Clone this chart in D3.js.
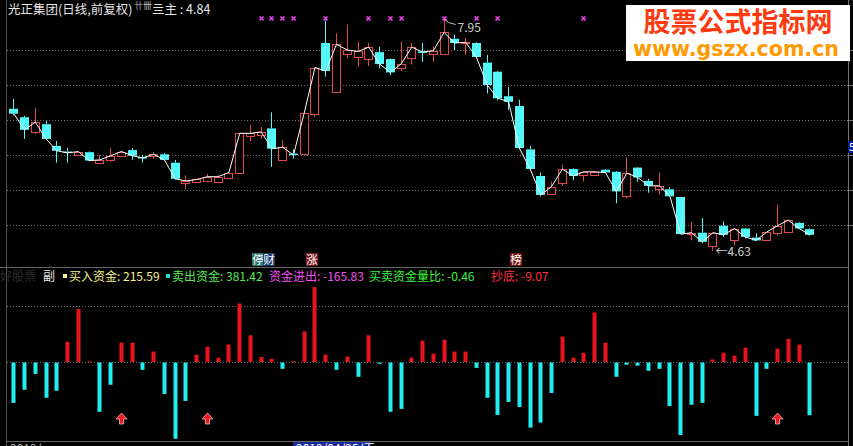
<!DOCTYPE html>
<html><head><meta charset="utf-8">
<script src="https://cdn.jsdelivr.net/npm/d3@7/dist/d3.min.js"></script>
<style>html,body{margin:0;padding:0;background:#000;overflow:hidden}</style>
</head><body>
<svg id="c" width="853" height="446"></svg>
<script>
// ---- data ----
const opens  = [6.66,6.54,6.32,6.44,6.13,6.05,6.01,6.04,5.89,5.93,5.99,6.07,5.97,5.98,6.01,5.89,5.60,5.61,5.64,5.62,5.68,5.74,6.26,6.29,6.38,5.92,6.02,6.02,6.60,7.60,6.90,7.44,7.40,7.37,7.47,7.37,7.24,7.38,7.48,7.44,7.44,7.66,7.59,7.60,7.32,7.19,6.84,6.70,6.08,5.70,5.45,5.60,5.80,5.71,5.72,5.79,5.76,5.41,5.82,5.63,5.52,5.51,5.40,4.87,4.89,4.70,4.99,4.80,4.95,4.82,4.79,4.89,4.90,5.03,4.94];
const highs  = [6.80,6.56,6.67,6.49,6.20,6.10,6.05,6.05,6.00,6.10,6.06,6.10,6.00,6.04,6.03,5.93,5.71,5.66,5.73,5.71,5.76,6.31,6.43,6.40,6.61,6.21,6.08,6.60,7.25,7.92,7.74,7.86,7.62,7.60,7.55,7.38,7.62,7.60,7.60,7.55,7.95,7.72,7.67,7.61,7.43,7.20,6.97,6.79,6.13,5.75,5.62,5.86,5.81,5.77,5.77,5.80,5.77,5.97,5.83,5.66,5.75,5.54,5.40,5.05,5.10,4.89,5.05,4.95,4.96,4.88,4.90,5.29,5.07,5.04,4.95];
const lows   = [6.57,6.23,6.30,6.22,5.89,5.89,6.00,5.91,5.88,5.90,5.98,5.93,5.89,5.95,5.92,5.65,5.51,5.60,5.63,5.61,5.67,5.74,6.20,6.23,5.83,5.92,5.95,6.00,6.54,7.12,6.90,7.38,7.26,7.27,7.24,7.14,7.20,7.29,7.33,7.33,7.44,7.50,7.43,7.40,6.88,6.78,6.64,6.08,5.79,5.41,5.44,5.56,5.64,5.62,5.70,5.74,5.31,5.38,5.62,5.46,5.43,5.40,4.87,4.78,4.74,4.63,4.83,4.71,4.81,4.77,4.78,4.85,4.89,4.95,4.85];
const closes = [6.59,6.36,6.47,6.23,6.06,6.03,6.05,5.92,5.93,5.99,6.05,5.99,5.96,6.01,5.93,5.66,5.63,5.65,5.69,5.69,5.75,6.31,6.31,6.33,6.09,6.11,6.00,6.60,7.25,7.20,7.58,7.50,7.48,7.54,7.30,7.18,7.30,7.54,7.47,7.49,7.75,7.60,7.61,7.40,7.00,6.81,6.76,6.10,5.80,5.43,5.55,5.80,5.70,5.76,5.76,5.75,5.48,5.74,5.68,5.56,5.56,5.41,4.87,4.89,4.76,4.89,4.86,4.95,4.83,4.78,4.90,4.99,5.07,4.95,4.86];
const flows  = [-127,-86,-36,-111,-89,64,167,2,-155,-70,61,61,-23,33,-99,-240,-121,23,48,14,55,184,84,16,10,-20,3,96,236,23,-23,17,-45,84,-4,-155,-146,14,67,26,70,33,33,-17,-111,-165,-124,-140,-205,-189,-96,80,14,29,156,61,-45,-7,-10,-26,-20,-137,-228,-133,-127,8,29,20,45,-168,-20,42,73,55,-165.83];
const markerIdx = [23,24,25,26,29,33,35,36,40,43,45,53];
const arrowIdx  = [10,18,71];
const priceGrid = [7.5,7.0,6.5,6.0,5.5,5.0];
const flowGrid  = [176,0];
const legendItems = [
  {t:"买入资金: 215.59", c:"#f4f08a", x:69, sq:"#f4f08a"},
  {t:"卖出资金: 381.42", c:"#5ce65c", x:172, sq:"#20e0d0"},
  {t:"资金进出: -165.83", c:"#f050f0", x:269},
  {t:"买卖资金量比: -0.46", c:"#40f040", x:369},
  {t:"抄底: -9.07", c:"#ff3040", x:491}
];
const events = [{t:"停",i:22,bg:"#2f7a72"},{t:"财",i:23,bg:"#1c3d6a"},{t:"涨",i:27,bg:"#7a1818"},{t:"榜",i:46,bg:"#7a1818"}];

// ---- drawing ----
const svg = d3.select("#c");
const FONT = "'Noto Sans CJK SC','Noto Sans',sans-serif";
svg.append("rect").attr("width",853).attr("height",446).attr("fill","#000");

const n = closes.length;
const x = d3.scaleLinear().domain([0, n-1]).range([13.3, 809.3]);
const y = d3.scaleLinear().domain([5, 7.5]).range([225, 50]);
const yf = d3.scaleLinear().domain([-165.83, 0]).range([414.7, 362]);

// frames
svg.append("line").attr("x1",6.5).attr("x2",6.5).attr("y1",0).attr("y2",446).attr("stroke","#555");
svg.append("line").attr("x1",848.5).attr("x2",848.5).attr("y1",0).attr("y2",446).attr("stroke","#777");
svg.append("line").attr("x1",0).attr("x2",849).attr("y1",267.5).attr("y2",267.5).attr("stroke","#666");
svg.append("line").attr("x1",6).attr("x2",849).attr("y1",441.5).attr("y2",441.5).attr("stroke","#666");

// price grid
svg.selectAll(".pg").data(priceGrid).join("line")
  .attr("x1",7).attr("x2",848)
  .attr("y1",d=>Math.round(y(d))+0.5).attr("y2",d=>Math.round(y(d))+0.5)
  .attr("stroke","#6a6a6a").attr("stroke-dasharray","1,2");
// flow grid
svg.selectAll(".fg").data(flowGrid).join("line")
  .attr("x1",7).attr("x2",848)
  .attr("y1",d=>Math.round(yf(d))+0.5).attr("y2",d=>Math.round(yf(d))+0.5)
  .attr("stroke","#6a6a6a").attr("stroke-dasharray","1,2");

// right axis ticks
svg.selectAll(".rt").data(priceGrid).join("line")
  .attr("x1",848).attr("x2",853)
  .attr("y1",d=>Math.round(y(d))+0.5).attr("y2",d=>Math.round(y(d))+0.5).attr("stroke","#777");

// candles
const RED = "#e24a4a", CYAN = "#54f8f8";
const cg = svg.append("g");
for (let i=0;i<n;i++){
  const cx = Math.round(x(i));
  const up = closes[i] >= opens[i];
  const col = up ? RED : CYAN;
  const top = y(Math.max(opens[i],closes[i])), bot = y(Math.min(opens[i],closes[i]));
  const hY = y(highs[i]), lY = y(lows[i]);
  cg.append("line").attr("x1",cx+0.5).attr("x2",cx+0.5).attr("y1",hY).attr("y2",top).attr("stroke",col);
  cg.append("line").attr("x1",cx+0.5).attr("x2",cx+0.5).attr("y1",bot).attr("y2",lY).attr("stroke",col);
  const h = Math.max(1, bot-top);
  if (up) {
    cg.append("rect").attr("x",cx-3.5).attr("y",Math.round(top)+0.5).attr("width",8).attr("height",Math.max(1,Math.round(h)))
      .attr("fill","#000").attr("stroke",col);
  } else {
    cg.append("rect").attr("x",cx-4).attr("y",top).attr("width",9).attr("height",Math.max(1.5,h)).attr("fill",col);
  }
}
// close line
svg.append("path").datum(closes)
  .attr("d", d3.line().x((d,i)=>x(i)+0.5).y(d=>y(d)))
  .attr("fill","none").attr("stroke","#fff").attr("stroke-width",1);

// markers
svg.selectAll(".mk").data(markerIdx).join("path")
  .attr("d", i => { const cx=Math.round(x(i))+0.5, cy=18.5; return `M${cx-2},${cy-2}L${cx+2},${cy+2}M${cx+2},${cy-2}L${cx-2},${cy+2}`; })
  .attr("stroke","#f040f0").attr("stroke-width",1.6);

// max / min labels
const iMax = d3.maxIndex(highs), iMin = d3.minIndex(lows);
svg.append("path").attr("d",`M${x(iMax)+1},${y(highs[iMax])+1}L${x(iMax)+5},${y(highs[iMax])+4}L${x(iMax)+12},${y(highs[iMax])+6}`)
  .attr("stroke","#ccc").attr("fill","none");
svg.append("text").attr("x",x(iMax)+14).attr("y",y(highs[iMax])+13).text(d3.format(".2f")(highs[iMax]))
  .attr("fill","#cfcfcf").attr("font-size",12).attr("font-family",FONT);
svg.append("text").attr("x",x(iMin)+3).attr("y",y(lows[iMin])+5).text("←"+d3.format(".2f")(lows[iMin]))
  .attr("fill","#cfcfcf").attr("font-size",12).attr("font-family",FONT);

// event labels
events.forEach(e=>{
  const ex = Math.round(x(e.i))+2;
  svg.append("rect").attr("x",ex).attr("y",253).attr("width",12).attr("height",13).attr("fill",e.bg);
  svg.append("text").attr("x",ex+6).attr("y",264).attr("text-anchor","middle").text(e.t)
    .attr("fill","#fff").attr("font-size",11.5).attr("font-family",FONT);
});

// bars
svg.selectAll(".bar").data(flows).join("rect")
  .attr("x",(d,i)=>Math.round(x(i))-1.5).attr("width",4)
  .attr("y",d=>d>=0?yf(d):yf(0)+0.5)
  .attr("height",d=>Math.max(1,Math.abs(yf(d)-yf(0))))
  .attr("fill",d=>d>=0?"#e8141c":"#22eef0");

// arrows
svg.selectAll(".ar").data(arrowIdx).join("path")
  .attr("d", i => { const cx=Math.round(x(i))+0.5, t=413; return `M${cx},${t}L${cx+5.5},${t+6}L${cx+2},${t+6}L${cx+2},${t+11}L${cx-2},${t+11}L${cx-2},${t+6}L${cx-5.5},${t+6}Z`; })
  .attr("fill","#e81c24").attr("stroke","#ffb0b0").attr("stroke-width",0.8);

// title
svg.append("text").attr("x",8).attr("y",14).text("光正集团(日线,前复权)")
  .attr("fill","#e6e6e6").attr("font-size",12.5).attr("font-family",FONT);
svg.append("text").attr("x",134).attr("y",9).text("卄卌")
  .attr("fill","#bbb").attr("font-size",9).attr("font-family",FONT);
svg.append("text").attr("x",152).attr("y",14).text("亖主 : 4.84")
  .attr("fill","#e6e6e6").attr("font-size",12.5).attr("font-family",FONT);

// legend
svg.append("text").attr("x",0).attr("y",281).text("好股票").attr("fill","#2a2a2a").attr("font-size",12).attr("font-family",FONT);
svg.append("text").attr("x",43).attr("y",281).text("副").attr("fill","#e6e6e6").attr("font-size",12).attr("font-family",FONT);
legendItems.forEach(l=>{
  if (l.sq) svg.append("rect").attr("x",l.x-6).attr("y",274).attr("width",4).attr("height",4).attr("fill",l.sq);
  svg.append("text").attr("x",l.x).attr("y",281).text(l.t).attr("fill",l.c).attr("font-size",12).attr("font-family",FONT);
});

// right edge value box
svg.append("rect").attr("x",848).attr("y",141).attr("width",5).attr("height",12).attr("fill","#0a1a8a");
svg.append("text").attr("x",849).attr("y",151).text("5").attr("fill","#fff").attr("font-size",11).attr("font-family",FONT);

// bottom date strip (mostly cut off)
svg.append("rect").attr("x",293).attr("y",442).attr("width",78).attr("height",6).attr("fill","#1a2a9a");
svg.append("text").attr("x",296).attr("y",453).text("2019/04/25/五").attr("fill","#fff").attr("font-size",12).attr("font-family",FONT);
svg.append("text").attr("x",10).attr("y",453).text("2019/").attr("fill","#aaa").attr("font-size",12).attr("font-family",FONT);

// watermark
svg.append("rect").attr("x",626).attr("y",5).attr("width",224).attr("height",56).attr("fill","#fff");
svg.append("text").attr("x",738).attr("y",32).attr("text-anchor","middle").text("股票公式指标网")
  .attr("fill","#ff3a10").attr("font-size",27).attr("font-weight","bold").attr("font-family",FONT);
svg.append("text").attr("x",736).attr("y",56).attr("text-anchor","middle").text("www.gszx.com.cn")
  .attr("fill","#ff9a00").attr("font-size",21).attr("font-weight","bold").attr("font-family","'DejaVu Sans',sans-serif")
  .attr("textLength",206).attr("lengthAdjust","spacingAndGlyphs");
</script>
</body></html>
